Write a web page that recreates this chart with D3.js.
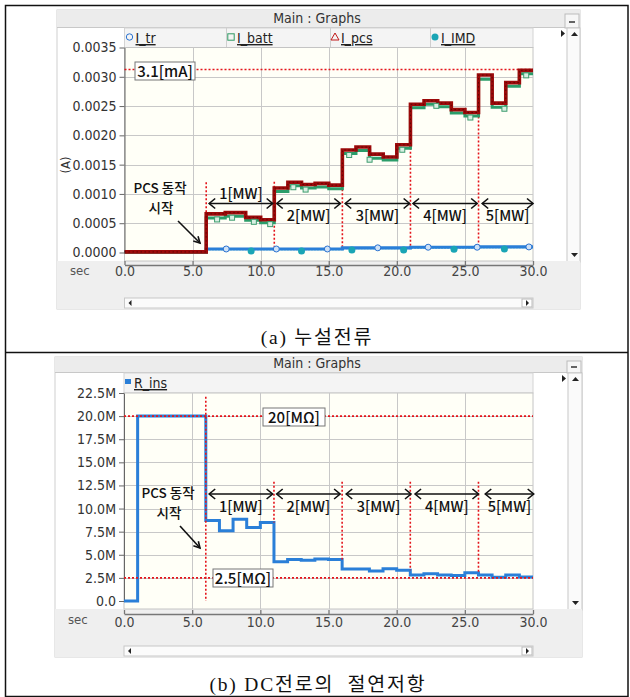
<!DOCTYPE html>
<html><head><meta charset="utf-8">
<script src="https://cdn.jsdelivr.net/npm/d3@7"></script>
<style>body{margin:0;background:#fff}</style>
</head><body><svg id="c" width="630" height="697"></svg>
<script>
// ---------------- DATA ----------------
const xTicks = [0,5,10,15,20,25,30];
const xTickLabels = ["0.0","5.0","10.0","15.0","20.0","25.0","30.0"];

// (a) leakage current
const legendA = ["I_tr","I_batt","I_pcs","I_IMD"];
const yTicksA = [0,0.0005,0.001,0.0015,0.002,0.0025,0.003,0.0035];
const yTickLabelsA = ["0.0000","0.0005","0.0010","0.0015","0.0020","0.0025","0.0030","0.0035"];
const stepTimesA = [0,6,7.4,8.9,10,11,12,13,14,15,16,17,18,19,20,21,22,23,24,25,26,27,28,29,30];
const I_pcs  = [0.00001,0.00066,0.00068,0.00060,0.00056,0.00110,0.00120,0.00116,0.00118,0.00115,0.00175,0.00180,0.00168,0.00163,0.00184,0.00253,0.00259,0.00255,0.00244,0.00239,0.00303,0.00255,0.00290,0.00311];
const I_batt = [0.000005,0.00059,0.00062,0.00055,0.00051,0.00104,0.00114,0.00110,0.00112,0.00109,0.00169,0.00174,0.00161,0.00158,0.00178,0.00247,0.00253,0.00249,0.00238,0.00233,0.00296,0.00248,0.00284,0.00305];
const stepTimesTr = [0,6,16,21,26,30];
const I_tr  = [0.00001,0.00006,0.00008,0.00009,0.000095];
const I_IMD = [0.000005,0.00005,0.00007,0.00008,0.000085];
const trMarkerT   = [7.47,11.15,14.9,18.6,22.3,25.9,29.7];
const imdMarkerT  = [9.3,13.0,16.7,20.5,24.2,27.9];
const battMarkerT = [6.8,7.9,9.5,10.7,12.4,13.3,16.5,18.0,20.4,22.9,25.4,27.9,29.5];
const refA = 0.003125;
const refLabelA = "3.1[mA]";
const vLinesA = [6,11,16,21,26];
const vLineTopsA = [0.00120,0.00121,0.00115,0.00179,0.00239];

// (b) insulation resistance
const legendB = ["R_ins"];
const yTicksB = [0,2.5e6,5e6,7.5e6,10e6,12.5e6,15e6,17.5e6,20e6,22.5e6];
const yTickLabelsB = ["0.0","2.5M","5.0M","7.5M","10.0M","12.5M","15.0M","17.5M","20.0M","22.5M"];
const stepTimesB = [0,1,6,7,8,9,10,11,12,13,14,15,16,17,18,19,20,21,22,23,24,25,26,27,28,29,30];
const R_ins = [0,20.0e6,8.7e6,7.6e6,8.85e6,7.95e6,8.5e6,4.25e6,4.5e6,4.4e6,4.55e6,4.5e6,3.46e6,3.46e6,3.25e6,3.5e6,3.32e6,2.81e6,2.95e6,2.8e6,2.75e6,3.06e6,2.8e6,2.56e6,2.8e6,2.6e6];
const refB = [20e6,2.5e6];
const refLabelsB = ["20[MΩ]","2.5[MΩ]"];
const vLinesB = [6,11,16,21,26];
const vLineTopsB = [22.1e6,12.9e6,12.9e6,12.9e6,12.9e6];
const vLineBotsB = [0,8.5e6,4.5e6,3.32e6,3.06e6];

const mwLabels = ["1[MW]","2[MW]","3[MW]","4[MW]","5[MW]"];
const mwSpansA = [[6.22,10.88],[11.18,15.85],[16.21,20.94],[21.19,25.9],[26.27,30]];
const mwSpansB = [[6.25,10.9],[11.2,15.85],[16.3,21.05],[21.35,26.0],[26.5,30.05]];
const pcsText = ["PCS 동작","시작"];
const captions = ["(a) 누설전류","(b) DC전로의  절연저항"];

// ---------------- DRAW ----------------
const svg = d3.select('#c');
const NARROW = '"Liberation Sans Narrow","Arial Narrow","DejaVu Sans Condensed",sans-serif';
const KR = '"Noto Sans CJK KR","Malgun Gothic",sans-serif';
const SERIF = '"Liberation Serif","Noto Sans CJK KR",serif';

svg.append('rect').attr('width',630).attr('height',697).attr('fill','#fff');

function stepPts(times, vals){
  const p = vals.map((v,i)=>[times[i],v]);
  p.push([times[times.length-1], vals[vals.length-1]]);
  return p;
}
function valAt(times, vals, t){
  let i = d3.bisectRight(times, t) - 1;
  i = Math.max(0, Math.min(vals.length-1, i));
  return vals[i];
}

function panel(o){
  const g = svg.append('g');
  g.append('rect').attr('x',o.L).attr('y',o.T).attr('width',o.R-o.L).attr('height',o.B-o.T).attr('fill','#fff').attr('stroke','#d0d0d0');
  g.append('rect').attr('x',o.L).attr('y',o.T).attr('width',o.R-o.L).attr('height',o.titleB-o.T).attr('fill','#ececec');
  g.append('line').attr('x1',o.L).attr('x2',o.R).attr('y1',o.titleB+0.5).attr('y2',o.titleB+0.5).attr('stroke','#c8c8c8');
  g.append('text').attr('x',317).attr('y',o.titleB-4).attr('text-anchor','middle')
    .attr('font-family',NARROW).attr('font-size',14).attr('fill','#333').text('Main : Graphs');
  g.append('rect').attr('x',o.R-15).attr('y',o.T+4).attr('width',14).attr('height',o.titleB-o.T-3).attr('fill','#f6f6f6').attr('stroke','#bbb');
  g.append('line').attr('x1',o.R-11).attr('x2',o.R-5).attr('y1',o.titleB-5).attr('y2',o.titleB-5).attr('stroke','#333').attr('stroke-width',1.5);
  g.append('rect').attr('x',o.plotL).attr('y',o.titleB+1).attr('width',o.plotR-o.plotL).attr('height',o.plotT-o.titleB-1).attr('fill','#f4f4f4').attr('stroke','#d4d4d4');
  g.append('rect').attr('x',o.scrollColL).attr('y',o.titleB+1).attr('width',o.R-o.scrollColL).attr('height',o.plotB-o.titleB).attr('fill','#fafafa').attr('stroke','#c8c8c8');
  g.append('path').attr('d',`M${o.scrollColL+4},${o.titleB+9}l3.5,-4l3.5,4z`).attr('fill','#222');
  g.append('path').attr('d',`M${o.scrollColL+4},${o.plotB-8}l3.5,4l3.5,-4z`).attr('fill','#222');
  g.append('path').attr('d',`M${o.scrollColL-6},${o.titleB+3}l4,3.5l-4,3.5z`).attr('fill','#222');
  g.append('rect').attr('x',o.L).attr('y',o.plotB).attr('width',o.R-o.L).attr('height',o.B-o.plotB).attr('fill','#efefef');
  g.append('rect').attr('x',o.plotL).attr('y',o.scrollT).attr('width',o.plotR-o.plotL).attr('height',o.scrollB-o.scrollT).attr('fill','#fbfbfb').attr('stroke','#c8c8c8');
  g.append('path').attr('d',`M${o.plotL+7},${(o.scrollT+o.scrollB)/2-3}l-3,3l3,3z`).attr('fill','#222');
  g.append('rect').attr('x',o.plotR-11).attr('y',o.scrollT+1).attr('width',10).attr('height',o.scrollB-o.scrollT-2).attr('fill','#fff').attr('stroke','#bbb');
  g.append('path').attr('d',`M${o.plotR-7},${(o.scrollT+o.scrollB)/2-3}l3,3l-3,3z`).attr('fill','#222');
  g.append('rect').attr('x',o.plotL).attr('y',o.plotT).attr('width',o.plotR-o.plotL).attr('height',o.plotB-o.plotT).attr('fill','#fffff7').attr('stroke','#c4c4c4');
  const x = d3.scaleLinear().domain([0,30]).range([o.plotL,o.plotR]);
  const y = d3.scaleLinear().domain([0,o.yMax]).range([o.yZero,o.plotT]);
  g.append('g').selectAll('line').data(o.yTicks.slice(1,-1)).join('line')
    .attr('x1',o.plotL).attr('x2',o.plotR).attr('y1',d=>Math.round(y(d))+0.5).attr('y2',d=>Math.round(y(d))+0.5).attr('stroke','#c8c8c8');
  g.append('g').selectAll('line').data(xTicks.slice(1,-1)).join('line')
    .attr('y1',o.plotT).attr('y2',o.plotB).attr('x1',d=>Math.round(x(d))+0.5).attr('x2',d=>Math.round(x(d))+0.5).attr('stroke','#c8c8c8');
  const ya = g.append('g').attr('transform',`translate(${o.plotL},0)`)
    .call(d3.axisLeft(y).tickValues(o.yTicks).tickFormat((d,i)=>o.yLabels[i]).tickSize(5).tickSizeOuter(0).tickPadding(3));
  ya.selectAll('text').attr('font-family',NARROW).attr('font-size',14).attr('fill','#333');
  ya.selectAll('line,path').attr('stroke','#666');
  const xa = g.append('g').attr('transform',`translate(0,${o.axisY})`)
    .call(d3.axisBottom(x).tickValues(xTicks).tickFormat((d,i)=>xTickLabels[i]).tickSize(-4).tickSizeOuter(0).tickPadding(o.xPad));
  xa.selectAll('text').attr('font-family',NARROW).attr('font-size',14).attr('fill','#444');
  xa.selectAll('line,path').attr('stroke','#777').attr('stroke-width',1.3);
  g.append('text').attr('x',o.L+13).attr('y',o.axisY+10).attr('font-family',NARROW).attr('font-size',13).attr('fill','#555').text('sec');
  return {g,x,y};
}

function dblArrow(g,x1,x2,yy){
  g.append('line').attr('x1',x1).attr('x2',x2).attr('y1',yy).attr('y2',yy).attr('stroke','#111').attr('stroke-width',1.6);
  g.append('path').attr('d',`M${x1+6},${yy-5}L${x1},${yy}L${x1+6},${yy+5}`).attr('fill','none').attr('stroke','#111').attr('stroke-width',1.6);
  g.append('path').attr('d',`M${x2-6},${yy-5}L${x2},${yy}L${x2-6},${yy+5}`).attr('fill','none').attr('stroke','#111').attr('stroke-width',1.6);
}
function labelBox(g,cx,cy,w,txt){
  g.append('rect').attr('x',cx-w/2).attr('y',cy-9).attr('width',w).attr('height',18).attr('fill','#fff').attr('stroke','#777');
  g.append('text').attr('x',cx).attr('y',cy+5.5).attr('text-anchor','middle').attr('font-family',KR).attr('font-weight',500)
    .attr('font-size',15).attr('fill','#111').text(txt);
}
function pcsNote(g,cx,y1,y2,ax1,ay1,ax2,ay2){
  const t = g.append('text').attr('text-anchor','middle').attr('font-family',KR).attr('font-weight',500).attr('font-size',13.5).attr('fill','#111');
  t.append('tspan').attr('x',cx).attr('y',y1).text(pcsText[0]);
  t.append('tspan').attr('x',cx+1).attr('y',y2).text(pcsText[1]);
  g.append('line').attr('x1',ax1).attr('y1',ay1).attr('x2',ax2).attr('y2',ay2).attr('stroke','#111').attr('stroke-width',1.6);
  const a = Math.atan2(ay2-ay1,ax2-ax1), L=7;
  const p1=[ax2-L*Math.cos(a-0.5),ay2-L*Math.sin(a-0.5)], p2=[ax2-L*Math.cos(a+0.5),ay2-L*Math.sin(a+0.5)];
  g.append('path').attr('d',`M${p1}L${ax2},${ay2}L${p2}`).attr('fill','none').attr('stroke','#111').attr('stroke-width',1.6);
}
const dash = {stroke:'#e4141b','stroke-width':1.6,'stroke-dasharray':'2,2'};
function dline(g,x1,y1,x2,y2){
  const l = g.append('line').attr('x1',x1).attr('y1',y1).attr('x2',x2).attr('y2',y2);
  Object.entries(dash).forEach(([k,v])=>l.attr(k,v));
}

svg.append('rect').attr('x',5.5).attr('y',5.5).attr('width',622.5).attr('height',691).attr('fill','none').attr('stroke','#111').attr('stroke-width',1.5);
svg.append('line').attr('x1',5.5).attr('x2',628).attr('y1',352.5).attr('y2',352.5).attr('stroke','#111').attr('stroke-width',1.5);

// ===== Panel A =====
const A = panel({L:57,R:580,T:10,titleB:27,B:309,plotL:124.5,plotR:533,plotT:47.5,plotB:261,yZero:252.5,yMax:0.0035,
  axisY:265,xPad:1,scrollT:298,scrollB:308,scrollColL:567,yTicks:yTicksA,yLabels:yTickLabelsA});
{
  const {g,x,y} = A;
  const cells = [124.5,226,330,430,533];
  const lcol = ['#2a72d0','#2e9a62','#c01818','#1aa5b5'];
  legendA.forEach((name,i)=>{
    if(i>0) g.append('line').attr('x1',cells[i]+0.5).attr('x2',cells[i]+0.5).attr('y1',28).attr('y2',47).attr('stroke','#cfcfcf');
    const sx = cells[i]+5, sy = 37;
    if(i===0) g.append('circle').attr('cx',sx).attr('cy',sy).attr('r',3.2).attr('fill','none').attr('stroke',lcol[i]);
    if(i===1) g.append('rect').attr('x',sx-3.2).attr('y',sy-3.2).attr('width',6.4).attr('height',6.4).attr('fill','none').attr('stroke',lcol[i]);
    if(i===2) g.append('path').attr('d',`M${sx},${sy-4}l4,7h-8z`).attr('fill','none').attr('stroke',lcol[i]);
    if(i===3) g.append('circle').attr('cx',sx).attr('cy',sy).attr('r',3.5).attr('fill',lcol[i]);
    g.append('text').attr('x',sx+6).attr('y',43).attr('font-family',NARROW).attr('font-size',14).attr('fill','#222')
      .attr('text-decoration','underline').text(name);
  });
  g.append('text').attr('transform','translate(70,165) rotate(-90)').attr('text-anchor','middle')
    .attr('font-family',NARROW).attr('font-size',13).attr('fill','#333').text('(A)');
  dline(g,x(0),y(refA),x(30),y(refA));
  vLinesA.forEach((t,i)=>dline(g,x(t),y(vLineTopsA[i]),x(t),y(0.0001)));
  const line = d3.line().x(d=>x(d[0])).y(d=>y(d[1])).curve(d3.curveStepAfter);
  g.append('path').attr('d',line(stepPts(stepTimesTr,I_IMD))).attr('fill','none').attr('stroke','#21b3c2').attr('stroke-width',1.6).attr('stroke-dasharray','2,1');
  g.append('path').attr('d',line(stepPts(stepTimesTr,I_tr))).attr('fill','none').attr('stroke','#2a7fd8').attr('stroke-width',3.2);
  g.append('path').attr('d',line(stepPts(stepTimesA,I_batt))).attr('fill','none').attr('stroke','#2b9d6a').attr('stroke-width',3);
  g.append('path').attr('d',line(stepPts(stepTimesA,I_pcs))).attr('fill','none').attr('stroke','#9c0a0a').attr('stroke-width',3.6);
  g.append('path').attr('d',line(stepPts(stepTimesA,I_pcs))).attr('fill','none').attr('stroke','#3a0000').attr('stroke-width',1).attr('stroke-dasharray','1.5,2.5').attr('opacity',0.6);
  battMarkerT.forEach(t=>g.append('rect').attr('x',x(t)-2.5).attr('y',y(valAt(stepTimesA,I_batt,t))-1).attr('width',5).attr('height',5).attr('fill','#d8efe2').attr('stroke','#3c9c6e'));
  trMarkerT.forEach(t=>g.append('circle').attr('cx',x(t)).attr('cy',y(valAt(stepTimesTr,I_tr,t))).attr('r',3).attr('fill','#cfe2f7').attr('stroke','#2a72d0'));
  imdMarkerT.forEach(t=>g.append('circle').attr('cx',x(t)).attr('cy',y(valAt(stepTimesTr,I_IMD,t))+1.5).attr('r',3.5).attr('fill','#1aa5b5'));
  labelBox(g,165,71,60,refLabelA);
  mwSpansA.forEach((s,i)=>{
    dblArrow(g,x(s[0]),x(s[1]),203.5);
    g.append('text').attr('x',(x(s[0])+x(s[1]))/2).attr('y',i===0?198.5:220.5).attr('text-anchor','middle')
      .attr('font-family',KR).attr('font-weight',500).attr('font-size',14.5).attr('fill','#111').text(mwLabels[i]);
  });
  pcsNote(g,160,193,213,178,221,200,243);
}

// ===== Panel B =====
const Bp = panel({L:55,R:582,T:357,titleB:372,B:657,plotL:124,plotR:533,plotT:393,plotB:609,yZero:601,yMax:22.5e6,
  axisY:614,xPad:3,scrollT:646,scrollB:656,scrollColL:568,yTicks:yTicksB,yLabels:yTickLabelsB});
{
  const {g,x,y} = Bp;
  g.append('rect').attr('x',125).attr('y',379).attr('width',6).attr('height',5).attr('fill','#2a7fd8');
  g.append('text').attr('x',134).attr('y',388).attr('font-family',NARROW).attr('font-size',14).attr('fill','#222').attr('text-decoration','underline').text(legendB[0]);
  const line = d3.line().x(d=>x(d[0])).y(d=>y(d[1])).curve(d3.curveStepAfter);
  g.append('path').attr('d',line(stepPts(stepTimesB,R_ins))).attr('fill','none').attr('stroke','#2a7fd8').attr('stroke-width',3);
  refB.forEach(v=>dline(g,x(0),y(v),x(30),y(v)));
  vLinesB.forEach((t,i)=>dline(g,x(t),y(vLineTopsB[i]),x(t),y(vLineBotsB[i])));
  labelBox(g,294,417,62,refLabelsB[0]);
  labelBox(g,243,578,60,refLabelsB[1]);
  mwSpansB.forEach((s,i)=>{
    dblArrow(g,x(s[0]),x(s[1]),494);
    g.append('text').attr('x',(x(s[0])+x(s[1]))/2).attr('y',511.5).attr('text-anchor','middle')
      .attr('font-family',KR).attr('font-weight',500).attr('font-size',14.5).attr('fill','#111').text(mwLabels[i]);
  });
  pcsNote(g,168,498,518,180,526,200,548);
}

svg.append('text').attr('x',317).attr('y',344).attr('text-anchor','middle').attr('font-family',SERIF)
  .attr('font-size',19.5).attr('letter-spacing',1.8).attr('fill','#111').text(captions[0]);
svg.append('text').attr('x',318).attr('y',691).attr('text-anchor','middle').attr('font-family',SERIF)
  .attr('font-size',19.5).attr('letter-spacing',1.8).attr('fill','#111').attr('style','white-space:pre').text(captions[1]);
</script></body></html>
